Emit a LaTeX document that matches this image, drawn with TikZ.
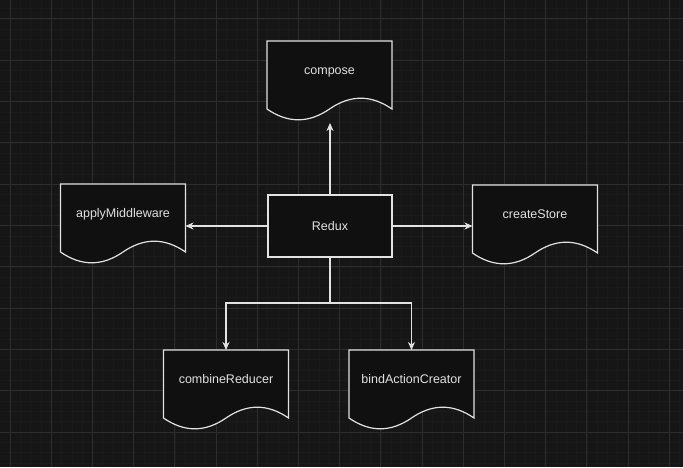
\documentclass[tikz,border=0pt]{standalone}
\usepackage{fontspec}
\setmainfont{Liberation Sans}
\usetikzlibrary{arrows.meta,backgrounds,calc}
\definecolor{canvas}{RGB}{22,22,23}
\definecolor{gridmajor}{RGB}{45,45,46}
\definecolor{gridminor}{RGB}{26,26,27}
\definecolor{boxfill}{RGB}{16,16,16}
\definecolor{ink}{RGB}{226,226,226}

\begin{document}
\begin{tikzpicture}[x=1pt, y=1pt,
    docbox/.style={minimum width=125pt, minimum height=80pt, inner sep=0pt, outer sep=0pt,
      text height=9pt, text depth=22pt, text=ink, font=\fontsize{12.5}{14}\selectfont},
    mainbox/.style={draw=ink, fill=boxfill, line width=1.2pt, minimum width=124pt, minimum height=62pt,
      inner sep=0pt, outer sep=0pt, text=ink, font=\fontsize{12.5}{14}\selectfont},
    docline/.style={draw=ink, fill=boxfill, line width=1.2pt},
    link/.style={draw=ink, line width=1.2pt, -{Stealth[length=8pt, width=7pt, inset=2.5pt]}}]
  \useasboundingbox (0,0) rectangle (683,467);
  \begin{scope}[on background layer]
    \fill[canvas] (0,0) rectangle (683,467);
    \foreach \i in {-1,...,66}
      \draw[gridminor, line width=0.6pt] ({10+10.3*\i},0) -- ({10+10.3*\i},467);
    \foreach \i in {-1,...,44}
      \draw[gridminor, line width=0.6pt] (0,{448-10.325*\i}) -- (683,{448-10.325*\i});
    \foreach \i in {0,...,16}
      \draw[gridmajor, line width=1pt] ({10+41.2*\i},0) -- ({10+41.2*\i},467);
    \foreach \i in {0,...,10}
      \draw[gridmajor, line width=1pt] (0,{448-41.3*\i}) -- (683,{448-41.3*\i});
  \end{scope}

  % nodes
  \node[mainbox] (redux) at (330,241) {Redux};
  \node[docbox] (compose) at (329.5,386) {compose};
  \node[docbox] (apply) at (123,243) {applyMiddleware};
  \node[docbox] (create) at (535,242) {createStore};
  \node[docbox] (combine) at (226,77) {combineReducer};
  \node[docbox] (bind) at (411.5,77) {bindActionCreator};

  % document outlines
  \begin{scope}[on background layer]
    \foreach \n in {compose,apply,create,combine,bind}
      \draw[docline, shift={(\n.south west)}] (0,80) -- (125,80) -- (125,12)
        .. controls (104.2,26.4) and (83.3,26.4) .. (62.5,12)
        .. controls (41.7,-2.4) and (20.8,-2.4) .. (0,12) -- cycle;
  \end{scope}

  % connectors
  \coordinate (fork) at ($(redux.south)+(0,-46)$);
  \draw[link, shorten >=2pt] (redux.north) -- (redux.north |- compose.south);
  \draw[link] (redux.west) -- (redux.west -| apply.east);
  \draw[link] (redux.east) -- (redux.east -| create.west);
  \draw[link] (redux.south) -- (fork) -| (combine.north);
  \draw[link] (fork) -| (bind.north);
\end{tikzpicture}
\end{document}
